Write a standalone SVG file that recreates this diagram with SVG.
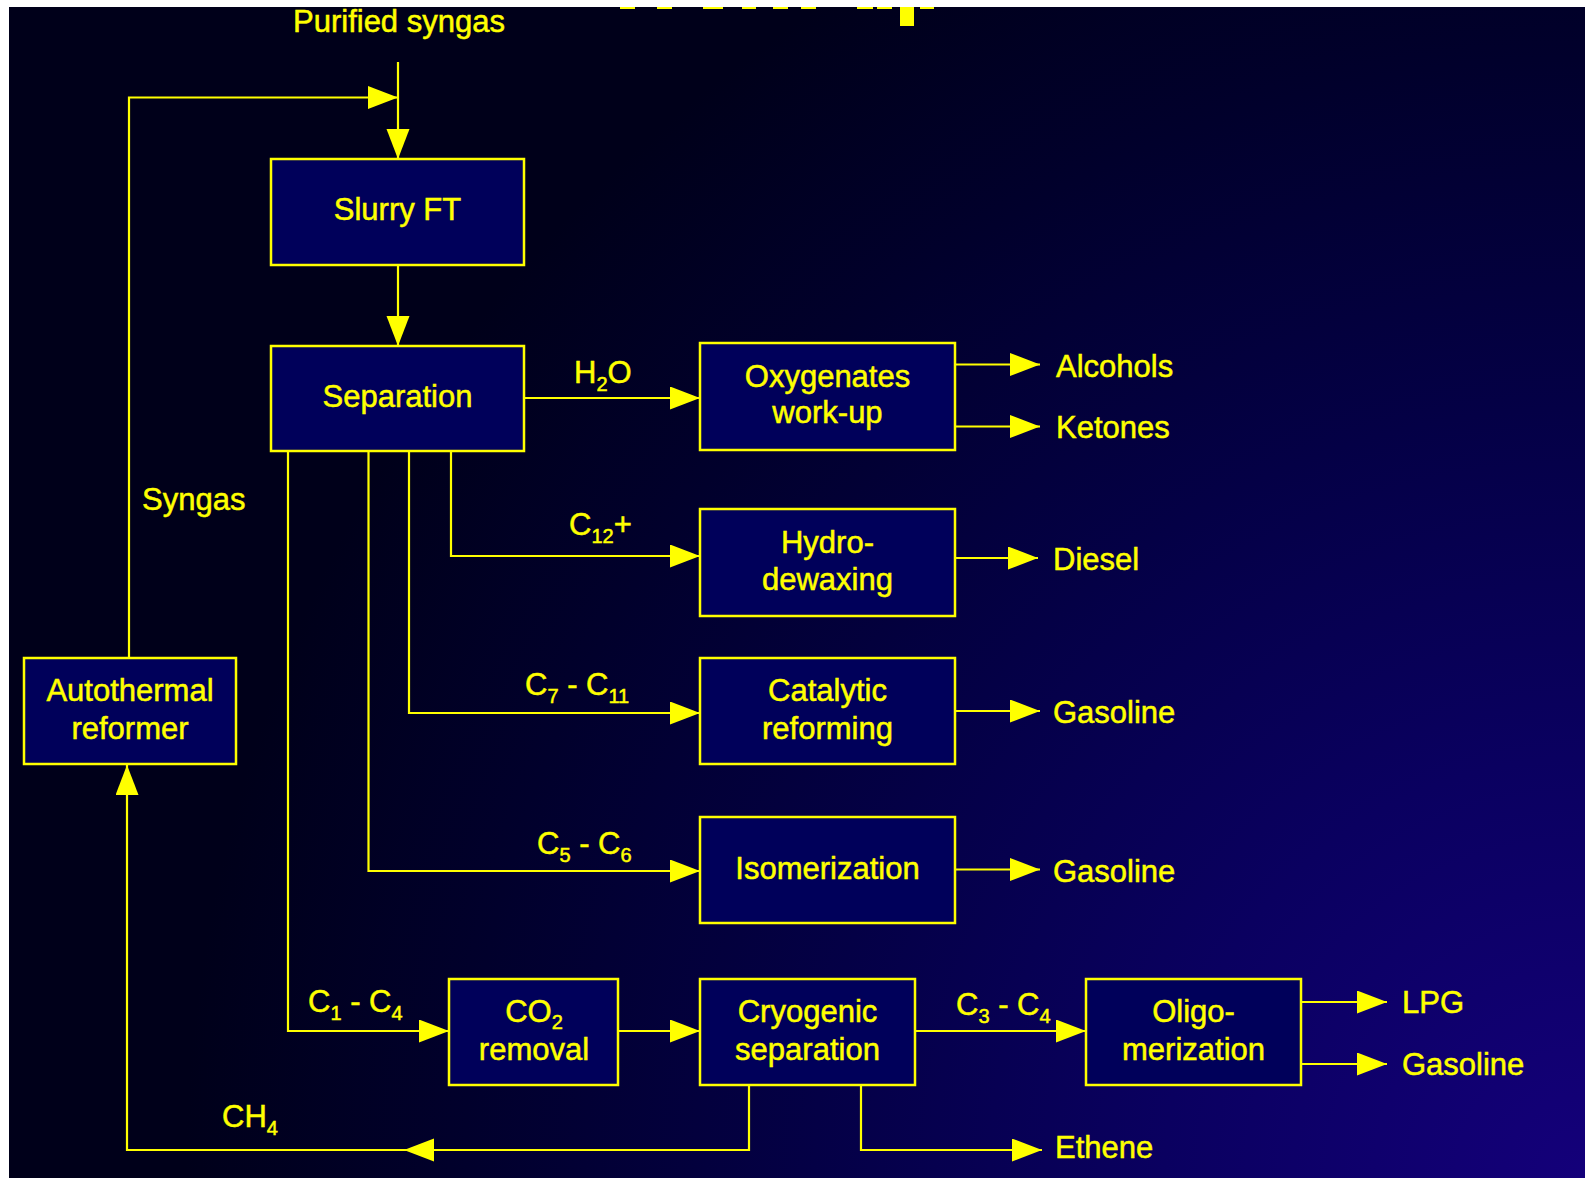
<svg xmlns="http://www.w3.org/2000/svg" width="1585" height="1178" viewBox="0 0 1585 1178">
<defs>
<radialGradient id="bg" gradientUnits="userSpaceOnUse" cx="1585" cy="1178" r="1400">
<stop offset="0" stop-color="#14007a"/>
<stop offset="0.3" stop-color="#0a0060"/>
<stop offset="0.55" stop-color="#040046"/>
<stop offset="0.8" stop-color="#01002c"/>
<stop offset="1" stop-color="#00001a"/>
</radialGradient>
<marker id="ah" markerUnits="userSpaceOnUse" markerWidth="32" markerHeight="24" refX="30" refY="11.5" orient="auto">
<path d="M0,0 L30,11.5 L0,23 Z" fill="#ffff00"/>
</marker>
<style>
.box{fill:#00005a;stroke:#ffff00;stroke-width:2.5}
.ln{fill:none;stroke:#ffff00;stroke-width:2.2}
.ar{fill:none;stroke:#ffff00;stroke-width:2.2;marker-end:url(#ah)}
text{font-family:"Liberation Sans",Arial,sans-serif;font-size:31px;fill:#ffff00;stroke:#ffff00;stroke-width:0.5}
.c{text-anchor:middle}
.sub{font-size:20px}
</style>
</defs>
<rect x="0" y="0" width="1585" height="1178" fill="#ffffff"/>
<rect x="9" y="7" width="1576" height="1171" fill="url(#bg)"/>
<g id="title-fragments" fill="#ffff00">
<rect x="620" y="7" width="15" height="2"/>
<rect x="657" y="7" width="15" height="2"/>
<rect x="703" y="7" width="20" height="2"/>
<rect x="742" y="7" width="14" height="2"/>
<rect x="773" y="7" width="15" height="2"/>
<rect x="801" y="7" width="15" height="2"/>
<rect x="857" y="7" width="16" height="2"/>
<rect x="877" y="7" width="15" height="2"/>
<rect x="900" y="7" width="14" height="19"/>
<rect x="920" y="7" width="14" height="2"/>
</g>
<g id="connectors">
<path class="ar" d="M398,62 L398,159"/>
<path class="ar" d="M129,658 L129,97.5 L398,97.5"/>
<path class="ar" d="M398,265 L398,346"/>
<path class="ar" d="M524,398 L700,398"/>
<path class="ar" d="M955,364.5 L1040,364.5"/>
<path class="ar" d="M955,426.5 L1040,426.5"/>
<path class="ar" d="M451,451 L451,556 L700,556"/>
<path class="ar" d="M955,558 L1038,558"/>
<path class="ar" d="M409,451 L409,713 L700,713"/>
<path class="ar" d="M955,711 L1040,711"/>
<path class="ar" d="M368.5,451 L368.5,871 L700,871"/>
<path class="ar" d="M955,869.5 L1040,869.5"/>
<path class="ar" d="M288,451 L288,1031 L449,1031"/>
<path class="ar" d="M618,1031 L700,1031"/>
<path class="ar" d="M915,1031 L1086,1031"/>
<path class="ar" d="M1301,1002 L1387,1002"/>
<path class="ar" d="M1301,1064 L1387,1064"/>
<path class="ar" d="M749,1085 L749,1150 L404,1150"/>
<path class="ar" d="M404,1150 L127,1150 L127,765"/>
<path class="ar" d="M861,1085 L861,1150 L1042,1150"/>
</g>
<g id="labels">
<text x="293" y="32">Purified syngas</text>
<text x="142" y="510">Syngas</text>
<text x="574" y="383">H<tspan class="sub" dy="8">2</tspan><tspan dy="-8">O</tspan></text>
<text x="569" y="535">C<tspan class="sub" dy="8">12</tspan><tspan dy="-8">+</tspan></text>
<text x="525" y="695">C<tspan class="sub" dy="8">7</tspan><tspan dy="-8"> - C</tspan><tspan class="sub" dy="8">11</tspan></text>
<text x="537" y="854">C<tspan class="sub" dy="8">5</tspan><tspan dy="-8"> - C</tspan><tspan class="sub" dy="8">6</tspan></text>
<text x="308" y="1012">C<tspan class="sub" dy="8">1</tspan><tspan dy="-8"> - C</tspan><tspan class="sub" dy="8">4</tspan></text>
<text x="956" y="1015">C<tspan class="sub" dy="8">3</tspan><tspan dy="-8"> - C</tspan><tspan class="sub" dy="8">4</tspan></text>
<text x="222" y="1127">CH<tspan class="sub" dy="8">4</tspan></text>
<text x="1056" y="377">Alcohols</text>
<text x="1056" y="438">Ketones</text>
<text x="1053" y="570">Diesel</text>
<text x="1053" y="723">Gasoline</text>
<text x="1053" y="882">Gasoline</text>
<text x="1402" y="1013">LPG</text>
<text x="1402" y="1075">Gasoline</text>
<text x="1055" y="1158">Ethene</text>
</g>
<g id="slurry-ft"><rect class="box" x="271" y="159" width="253" height="106"/><text class="c" x="397.5" y="220">Slurry FT</text></g>
<g id="separation"><rect class="box" x="271" y="346" width="253" height="105"/><text class="c" x="397.5" y="407">Separation</text></g>
<g id="oxygenates"><rect class="box" x="700" y="343" width="255" height="107"/><text class="c" x="827.5" y="387">Oxygenates</text><text class="c" x="827.5" y="423">work-up</text></g>
<g id="hydrodewaxing"><rect class="box" x="700" y="509" width="255" height="107"/><text class="c" x="827.5" y="553">Hydro-</text><text class="c" x="827.5" y="590">dewaxing</text></g>
<g id="catalytic-reforming"><rect class="box" x="700" y="658" width="255" height="106"/><text class="c" x="827.5" y="701">Catalytic</text><text class="c" x="827.5" y="739">reforming</text></g>
<g id="isomerization"><rect class="box" x="700" y="817" width="255" height="106"/><text class="c" x="827.5" y="879">Isomerization</text></g>
<g id="co2-removal"><rect class="box" x="449" y="979" width="169" height="106"/><text class="c" x="534" y="1022">CO<tspan class="sub" dy="7">2</tspan></text><text class="c" x="534" y="1060">removal</text></g>
<g id="cryogenic-separation"><rect class="box" x="700" y="979" width="215" height="106"/><text class="c" x="807.5" y="1022">Cryogenic</text><text class="c" x="807.5" y="1060">separation</text></g>
<g id="oligomerization"><rect class="box" x="1086" y="979" width="215" height="106"/><text class="c" x="1193.5" y="1022">Oligo-</text><text class="c" x="1193.5" y="1060">merization</text></g>
<g id="autothermal-reformer"><rect class="box" x="24" y="658" width="212" height="106"/><text class="c" x="130" y="701">Autothermal</text><text class="c" x="130" y="739">reformer</text></g>
</svg>
